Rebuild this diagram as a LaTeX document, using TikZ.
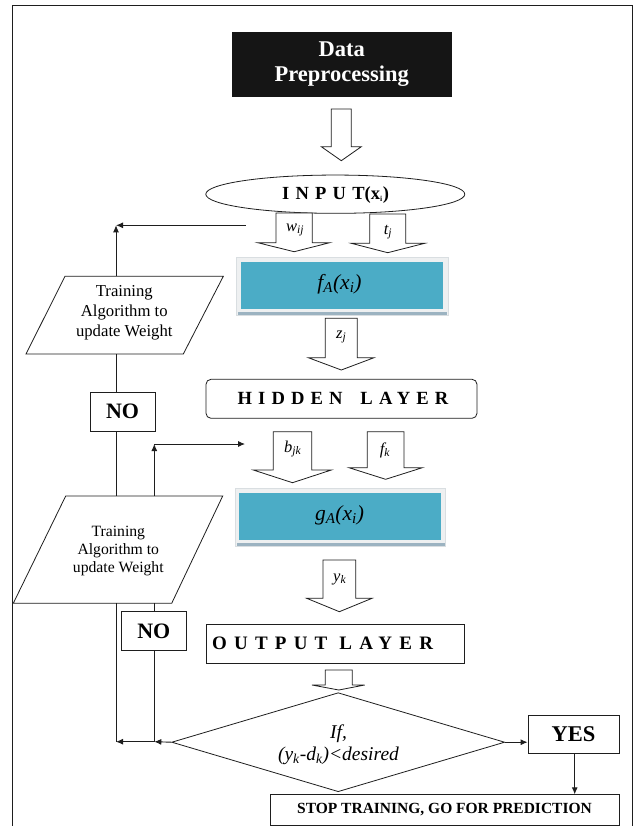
\documentclass[tikz,border=0pt]{standalone}
\usepackage{fontspec}
\setmainfont{Liberation Serif}
\usetikzlibrary{arrows.meta,shapes.geometric}
\definecolor{tealbox}{HTML}{4BACC6}
\definecolor{shadebar}{HTML}{9CB3C1}
\definecolor{framegray}{HTML}{D9DEE1}
\definecolor{ln}{HTML}{1E1E1E}
\definecolor{databg}{HTML}{151515}
\newcommand{\fsz}[2]{\fontsize{#1}{#2}\selectfont}
\newcommand{\blkarrow}[7]{%
  \draw[blk] (#1,#3) -- (#1,#4) -- (#5,#4) -- ({(#1+#2)/2},#7) -- (#6,#4) -- (#2,#4) -- (#2,#3) -- cycle;}
\begin{document}
\begin{tikzpicture}[x=1pt,y=-1pt,
  line width=0.9pt, draw=ln,
  blk/.style={draw=ln, fill=white, line width=0.8pt, line join=miter},
  conn/.style={draw=ln, line width=0.9pt},
  arr/.style={conn, -{Latex[length=7pt,width=6pt]}},
  plainbox/.style={draw=ln, line width=0.9pt, fill=white, inner sep=0pt},
  lbl/.style={font=\fsz{16.5}{18}\itshape, inner sep=0pt},
  partext/.style={align=center, inner sep=0pt},
  bigbold/.style={font=\fsz{22}{24}\bfseries, inner sep=0pt}]
\useasboundingbox (0,0) rectangle (633,826);
\fill[white] (0,0) rectangle (633,826);
% outer frame
\draw[line width=0.9pt] (12,826) -- (12,5.3) -- (632,5.3) -- (632,826);

% Data preprocessing
\node[fill=databg, minimum width=220, minimum height=65, inner sep=0pt,
      text=white, align=center, font=\fsz{22.5}{25.5}\bfseries] (data) at (341.7,64.2) {Data\\Preprocessing};

% block arrow data -> input
\blkarrow{331.3}{351.3}{109}{146.7}{321.3}{361.3}{160.7}

% input ellipse
\node[ellipse, draw=ln, line width=0.8pt, minimum width=259, minimum height=38.3, inner sep=0pt, fill=white] (input) at (335.3,194.2) {};
\node[font=\fsz{18.5}{20}\bfseries, inner sep=0pt] (inputtxt) at (335.5,195.5)
  {{\addfontfeature{LetterSpace=34}INPUT}(x{\fsz{11}{12}\textsubscript{i}})};

% w_ij and t_j arrows
\blkarrow{276}{312.3}{213}{242.7}{257.7}{329.7}{251.7}
\node[lbl] (wij) at (295,230) {w\textsubscript{ij}};
\blkarrow{369.7}{405.7}{214}{243.3}{351.3}{424.7}{252.7}
\node[lbl] (tj) at (388,232) {t\textsubscript{j}};

% f_A box
\fill[framegray!45] (236.7,257.3) rectangle (448,315);
\draw[framegray, line width=0.6pt] (236.7,257.3) rectangle (448,315);
\fill[shadebar] (238,312) rectangle (447,315);
\node[fill=tealbox, minimum width=202.3, minimum height=47.6, inner sep=0pt] (fa) at (341.85,285.5) {};
\node[font=\fsz{21.5}{23}\itshape, inner sep=0pt] (fatxt) at (339.5,284.5) {f\textsubscript{A}(x\textsubscript{i})};

% z_j arrow
\blkarrow{325.3}{357.3}{318.3}{357.7}{308.3}{374}{370}
\node[lbl] (zj) at (341.3,337) {z\textsubscript{j}};

% hidden layer
\node[draw=ln, line width=0.8pt, rounded corners=5pt, minimum width=271, minimum height=39, inner sep=0pt] (hidden) at (341.5,398.8) {};
\node[font=\fsz{18.6}{20}\bfseries, inner sep=0pt] (hiddentxt) at (343,398.5)
  {\addfontfeature{LetterSpace=33}HIDDEN\hspace{7pt} LAYER};

% b_jk and f_k arrows
\blkarrow{273.3}{311.7}{431.7}{470}{253.3}{331.3}{482.7}
\node[lbl] (bjk) at (292.7,449) {b\textsubscript{jk}};
\blkarrow{367.3}{404}{431.7}{467.7}{349}{422.3}{479.3}
\node[lbl] (fk) at (385,450) {f\textsubscript{k}};

% g_A box
\fill[framegray!45] (235,488.3) rectangle (445.7,546);
\draw[framegray, line width=0.6pt] (235,488.3) rectangle (445.7,546);
\fill[shadebar] (236.5,543) rectangle (444.5,546);
\node[fill=tealbox, minimum width=201.4, minimum height=47.3, inner sep=0pt] (ga) at (340,516.35) {};
\node[font=\fsz{21.5}{23}\itshape, inner sep=0pt] (gatxt) at (339.5,515) {g\textsubscript{A}(x\textsubscript{i})};

% y_k arrow
\blkarrow{323}{355.7}{560}{598.3}{306.7}{372}{611.7}
\node[lbl] (yk) at (339.7,579) {y\textsubscript{k}};

% output layer
\node[plainbox, minimum width=258, minimum height=39] (out) at (335.7,643.8) {};
\node[font=\fsz{19}{20}\bfseries, inner sep=0pt, anchor=west] (outtxt) at (211.7,643.5)
  {\addfontfeature{LetterSpace=38}OUTPUT LAYER};

% small arrow output -> decision
\blkarrow{325.3}{352.3}{670}{685}{312}{364.7}{690}

% decision diamond
\node[diamond, draw=ln, line width=0.8pt, minimum width=333, minimum height=99, inner sep=0pt] (dia) at (338.2,742.2) {};
\node[align=center, font=\fsz{19.5}{22}\itshape, inner sep=0pt] (diatxt) at (338.5,745)
  {If,\\(y\textsubscript{k}-d\textsubscript{k})<desired};

% YES and STOP
\node[plainbox, minimum width=91, minimum height=38.3, font=\fsz{22.5}{24}\bfseries] (yes) at (573.5,734.2) {YES};
\node[plainbox, minimum width=349, minimum height=30.7, font=\fsz{15.5}{17}\bfseries] (stop) at (444.5,809.7) {STOP TRAINING, GO FOR PREDICTION};

% parallelogram 1
\coordinate (p1tl) at (65,276.3);
\coordinate (p1tr) at (223.3,276.3);
\coordinate (p1br) at (183.3,354);
\coordinate (p1bl) at (26,354);
\draw[blk] (p1tl) -- (p1tr) -- (p1br) -- (p1bl) -- cycle;
\node[partext, font=\fsz{16.7}{20}] (p1txt) at (124.3,312.5) {Training\\Algorithm to\\update Weight};

% parallelogram 2
\coordinate (p2tl) at (65.7,496);
\coordinate (p2tr) at (222.7,496);
\coordinate (p2br) at (171.7,603.3);
\coordinate (p2bl) at (13.3,603.3);
\draw[blk] (p2tl) -- (p2tr) -- (p2br) -- (p2bl) -- cycle;
\node[partext, font=\fsz{15.7}{18.3}] (p2txt) at (118.3,551) {Training\\Algorithm to\\update Weight};

% NO boxes
\node[plainbox, minimum width=65, minimum height=38.3, font=\fsz{22}{24}\bfseries] (no1) at (122.5,411.8) {NO};
\node[plainbox, minimum width=64.3, minimum height=38.3, font=\fsz{22}{24}\bfseries] (no2) at (153.85,630.85) {NO};

% connector coordinates
\coordinate (c1) at (116,225.3);
\coordinate (c1r) at (245.7,225.3);
\coordinate (p1top) at (116,276.3);
\coordinate (p1bot) at (116,354);
\coordinate (p2topa) at (116,496);
\coordinate (p2bota) at (116,603.3);
\coordinate (b1) at (116,741.7);
\coordinate (c2) at (154.3,444);
\coordinate (c2r) at (245,444);
\coordinate (p2topb) at (154.3,496);
\coordinate (p2botb) at (154.3,603.3);
\coordinate (b2) at (154.3,741.7);

% upper loop
\draw[arr] (c1r) -- (c1);
\draw[arr] (p1top) -- (c1);
\draw[conn] (p1bot) -- (p1bot |- no1.north);
\draw[conn] (p2topa |- no1.south) -- (p2topa);
\draw[conn] (p2bota) -- (b1);

% lower loop
\draw[arr] (c2) -- (c2r);
\draw[arr] (p2topb) -- (c2);
\draw[conn] (p2botb) -- (p2botb |- no2.north);
\draw[conn] (p2botb |- no2.south) -- (b2);

% decision outputs
\draw[arr] (dia.west) -- (b2);
\draw[arr] (b2) -- (b1);
\draw[arr] (dia.east) -- (dia.east -| yes.west);
\draw[arr] (574.7,753.3) -- (574.7,794.3);
\end{tikzpicture}
\end{document}
